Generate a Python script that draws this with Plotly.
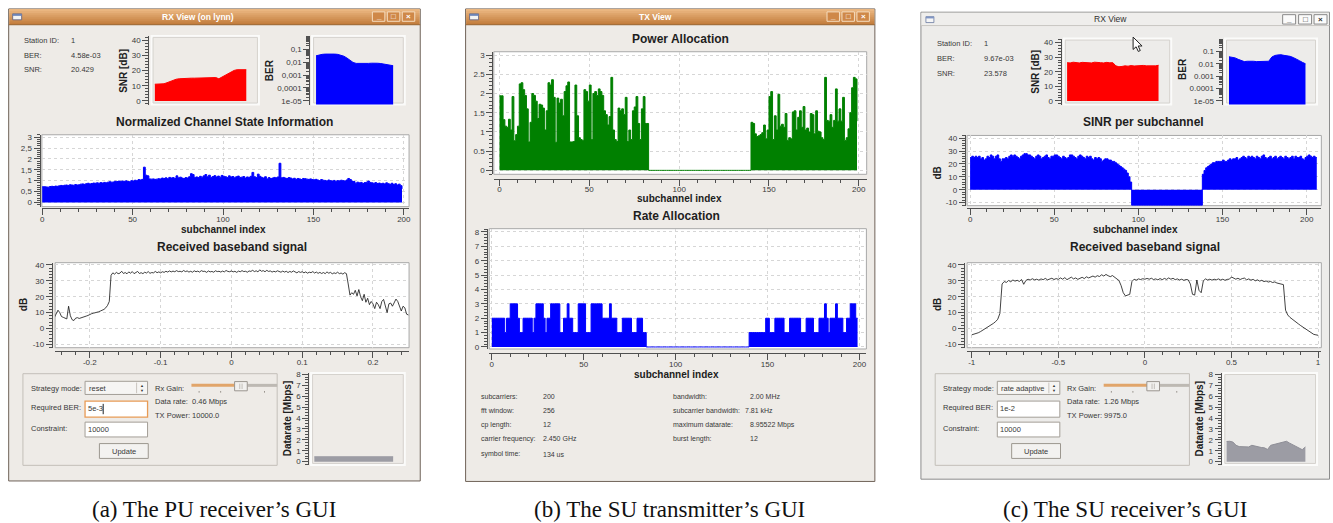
import numpy as np
import plotly.graph_objects as go

W, H = 1333, 523
def fx(p): return p / W
def fy(p): return 1 - p / H

# ------------------------------------------------------------------ data
info_labels = ["Station ID:", "BER:", "SNR:"]
info_values_a = ["1", "4.58e-03", "20.429"]
info_values_c = ["1", "9.67e-03", "23.578"]

snr_hist_a = [11.0, 11.1, 11.2, 11.3, 12.0, 12.8, 13.6, 14.3, 14.6, 14.8,
              14.9, 15.0, 15.0, 15.0, 15.1, 15.2, 15.4, 15.3, 15.4, 15.5,
              15.4, 14.6, 15.8, 17.0, 18.2, 19.2, 20.1, 20.6, 20.5, 20.3, 20.6]
ber_hist_a = [0.031, 0.036, 0.040, 0.042, 0.043, 0.043, 0.042, 0.040, 0.036, 0.029,
              0.021, 0.014, 0.0095, 0.0080, 0.0078, 0.0077, 0.0078, 0.0080, 0.0083, 0.0086,
              0.0082, 0.0078, 0.0070, 0.0062, 0.0057, 0.0053]
datarate_hist_a = [0.45, 0.45, 0.45, 0.45, 0.45, 0.45, 0.45, 0.45, 0.45, 0.45, 0.45, 0.45, 0.45,
                   0.45, 0.45, 0.45, 0.45, 0.45, 0.45, 0.45, 0.45, 0.45, 0.45, 0.45, 0.45, 0.45]

csi_a = [0.72, 0.72, 0.71, 0.70, 0.73, 0.74, 0.73, 0.75, 0.74, 0.76,
         0.78, 0.77, 0.79, 0.80, 0.78, 0.81, 0.80, 0.79, 0.82, 0.80,
         0.81, 0.84, 0.85, 0.83, 0.86, 0.88, 0.85, 0.87, 0.89, 0.88,
         0.90, 0.88, 0.91, 0.89, 0.92, 0.90, 0.93, 0.95, 0.93, 0.94,
         0.97, 0.96, 0.98, 0.97, 0.98, 0.97, 0.99, 0.96, 0.95, 1.00,
         0.98, 1.02, 1.00, 1.05, 1.03, 1.06, 1.62, 1.25, 1.22, 1.08,
         1.07, 1.08, 1.06, 1.07, 1.09, 1.08, 1.12, 1.10, 1.13, 1.09,
         1.15, 1.12, 1.14, 1.10, 1.22, 1.13, 1.16, 1.12, 1.10, 1.14,
         1.12, 1.18, 1.32, 1.28, 1.15, 1.17, 1.14, 1.20, 1.16, 1.22,
         1.28, 1.18, 1.25, 1.15, 1.19, 1.23, 1.17, 1.21, 1.16, 1.24,
         1.20, 1.18, 1.14, 1.22, 1.17, 1.19, 1.13, 1.18, 1.21, 1.15,
         1.16, 1.19, 1.12, 1.17, 1.15, 1.20, 1.38, 1.18, 1.14, 1.30,
         1.20, 1.15, 1.12, 1.18, 1.08, 1.14, 1.10, 1.12, 1.15, 1.13,
         1.17, 1.80, 1.13, 1.15, 1.12, 1.10, 1.14, 1.12, 1.08, 1.11,
         1.06, 1.10, 1.08, 1.05, 1.10, 1.09, 1.07, 1.06, 1.08, 1.05,
         1.04, 1.06, 1.03, 1.00, 1.05, 1.02, 1.01, 0.98, 1.03, 1.00,
         0.98, 1.01, 0.97, 1.00, 0.99, 1.02, 1.00, 0.98, 1.03, 1.10,
         1.05, 0.98, 0.96, 0.88, 0.93, 0.90, 0.92, 0.87, 0.91, 0.93,
         0.98, 0.92, 0.90, 0.88, 0.91, 0.87, 0.89, 0.86, 0.88, 0.85,
         0.90, 0.86, 0.83, 0.88, 0.82, 0.86, 0.80, 0.84, 0.77, 0.62]

bb_a_span = [-0.25, 0.25]
bb_a_db = [7.0, 9.5, 11.5, 10.0, 7.5, 7.0, 6.5, 6.0, 14.0, 8.0,
           5.5, 5.0, 6.5, 6.8, 6.3, 6.8, 7.0, 7.3, 7.8, 8.2,
           9.0, 9.3, 9.6, 9.8, 10.0, 10.5, 11.0, 11.4, 12.0, 13.0,
           14.5, 17.0, 33.5, 35.0, 34.2, 35.3, 34.5, 34.8, 36.0, 34.6,
           35.2, 34.4, 35.6, 34.8, 35.8, 34.5, 35.0, 35.9, 34.6, 35.1,
           34.5, 35.4, 34.9, 35.8, 34.7, 35.2, 35.0, 35.9, 35.1, 35.6,
           35.0, 35.7, 35.3, 36.0, 35.5, 36.2, 35.6, 36.1, 35.7, 36.4,
           35.8, 36.0, 35.6, 36.5, 35.8, 36.2, 35.5, 36.0, 35.4, 36.3,
           35.7, 36.1, 35.5, 36.4, 35.9, 36.0, 35.3, 36.2, 35.6, 35.9,
           35.4, 36.3, 35.8, 36.0, 35.5, 36.1, 35.6, 36.5, 35.9, 35.7,
           36.2, 35.6, 36.0, 35.3, 36.1, 35.7, 36.4, 35.8, 36.0, 35.4,
           36.2, 35.9, 36.6, 35.8, 36.3, 35.6, 36.9, 36.0, 36.4, 35.7,
           36.6, 35.9, 36.2, 35.5, 36.0, 35.6, 36.3, 35.8, 35.4, 36.1,
           35.5, 36.0, 35.2, 35.9, 35.4, 36.2, 35.6, 35.0, 35.8, 35.3,
           35.7, 35.0, 35.6, 34.8, 35.4, 35.1, 35.8, 34.9, 35.5, 34.7,
           35.3, 34.6, 35.2, 34.5, 35.6, 34.8, 35.3, 34.4, 35.0, 34.6,
           35.4, 34.5, 34.9, 34.2, 35.1, 34.5, 28.0, 21.0, 22.5, 21.5,
           24.0, 20.5, 24.5, 20.0, 17.5, 21.5, 16.5, 19.0, 15.0, 17.0,
           15.5, 12.5, 16.5, 15.0, 12.5, 17.0, 18.3, 14.0, 10.0, 15.5,
           16.0, 14.0, 16.5, 18.5, 17.0, 13.5, 11.0, 14.0, 13.0, 9.0, 8.5]

power_b = [1.94, 1.94, 1.32, 1.15, 1.12, 1.33, 1.05, 1.92, 0.77, 0.93,
           1.15, 2.25, 2.28, 2.10, 1.95, 1.60, 0.74, 1.25, 2.00, 1.95,
           1.80, 1.35, 1.72, 1.70, 1.62, 1.05, 1.55, 2.28, 2.22, 2.36,
           1.90, 0.73, 1.88, 1.75, 1.85, 1.42, 2.05, 2.20, 2.30, 0.74,
           0.74, 0.75, 2.22, 1.42, 0.85, 0.80, 0.78, 2.10, 2.05, 1.80,
           2.22, 0.80, 2.00, 2.05, 1.95, 2.12, 2.05, 1.95, 1.55, 1.45,
           1.18, 1.40, 2.42, 1.05, 0.80, 0.75, 1.62, 1.55, 1.60, 1.45,
           1.90, 0.75, 1.05, 0.80, 1.55, 1.65, 1.92, 1.22, 0.80, 1.60,
           1.92, 1.22, 1.22,
           0, 0, 0, 0, 0, 0, 0, 0, 0, 0, 0, 0, 0, 0, 0, 0, 0, 0, 0, 0,
           0, 0, 0, 0, 0, 0, 0, 0, 0, 0, 0, 0, 0, 0, 0, 0, 0, 0, 0, 0,
           0, 0, 0, 0, 0, 0, 0, 0, 0, 0, 0, 0, 0, 0, 0, 0, 0,
           1.25, 1.22, 0.95, 0.88, 0.90, 0.93, 0.98, 1.18, 0.82, 1.05,
           1.92, 2.05, 0.80, 1.42, 1.05, 1.98, 1.15, 1.20, 1.12, 1.48,
           0.78, 0.85, 0.82, 1.52, 1.55, 1.05, 1.38, 1.55, 1.12, 1.66,
           1.05, 1.10, 1.00, 1.48, 1.45, 0.95, 1.55, 1.02, 1.00, 0.85,
           0.80, 2.42, 1.30, 1.28, 1.45, 1.12, 1.30, 2.12, 1.28, 1.60,
           1.28, 1.90, 0.78, 0.85, 1.08, 1.50, 2.15, 2.42, 2.38, 1.28]

rate_b = [2, 2, 2, 2, 2, 2, 2, 1, 2, 2, 3, 3, 3, 3, 2, 1, 1, 2, 2, 2,
          2, 2, 1, 2, 3, 3, 3, 3, 2, 1, 2, 2, 3, 3, 3, 3, 3, 1, 1, 2,
          2, 3, 2, 2, 1, 1, 1, 3, 3, 3, 3, 1, 1, 1, 3, 3, 3, 3, 3, 3,
          2, 2, 2, 2, 3, 2, 2, 2, 1, 1, 1, 2, 2, 2, 2, 2, 1, 1, 1, 2,
          2, 2, 1, 1,
          0, 0, 0, 0, 0, 0, 0, 0, 0, 0, 0, 0, 0, 0, 0, 0, 0, 0, 0, 0,
          0, 0, 0, 0, 0, 0, 0, 0, 0, 0, 0, 0, 0, 0, 0, 0, 0, 0, 0, 0,
          0, 0, 0, 0, 0, 0, 0, 0, 0, 0, 0, 0, 0, 0, 0, 0,
          1, 1, 1, 1, 1, 1, 1, 1, 1, 2, 2, 1, 1, 1, 2, 2, 2, 2, 2, 1,
          1, 1, 2, 2, 2, 2, 2, 2, 1, 1, 1, 2, 2, 2, 2, 1, 1, 1, 2, 2,
          2, 3, 2, 1, 2, 2, 2, 3, 2, 2, 2, 1, 1, 2, 2, 3, 3, 3, 2, 2]

tx_labels_left = ["subcarriers:", "fft window:", "cp length:", "carrier frequency:", "symbol time:"]
tx_values_left = ["200", "256", "12", "2.450 GHz", "134 us"]
tx_labels_right = ["bandwidth:", "subcarrier bandwidth:", "maximum datarate:", "burst length:"]
tx_values_right = ["2.00 MHz", "7.81 kHz", "8.95522 Mbps", "12"]

snr_hist_c = [26.2, 26.0, 26.5, 26.1, 26.0, 26.4, 26.1, 26.3, 26.0, 26.5,
              26.1, 26.2, 26.0, 26.4, 26.1, 26.2, 24.0, 23.4, 23.6, 24.0,
              23.8, 24.2, 23.9, 24.1, 23.8, 24.3, 24.0, 23.9, 24.2, 24.0, 24.4]
ber_hist_c = [0.037, 0.035, 0.030, 0.023, 0.018, 0.015, 0.016, 0.017, 0.016, 0.015,
              0.015, 0.014, 0.014, 0.016, 0.035, 0.047, 0.052, 0.054, 0.048, 0.045,
              0.040, 0.032, 0.025, 0.018, 0.013, 0.010]
datarate_hist_c = [1.85, 1.87, 1.80, 1.50, 1.38, 1.36, 1.33, 1.35, 1.50, 1.42,
                   1.35, 1.30, 1.27, 1.12, 1.50, 1.57, 1.62, 1.70, 1.75, 1.87,
                   1.70, 1.55, 1.42, 1.30, 1.10, 1.35]

sinr_c = [25, 26, 25, 26, 25, 26, 24, 25, 23, 24,
          26, 25, 27, 26, 24, 26, 27, 24, 22, 24,
          24, 25, 24, 26, 27, 26, 27, 26, 25, 24,
          26, 27, 28, 28, 27, 27, 26, 25, 24, 26,
          27, 26, 24, 25, 26, 27, 25, 24, 26, 26,
          27, 27, 26, 25, 24, 26, 25, 24, 25, 27,
          27, 26, 25, 24, 26, 27, 26, 25, 24, 26,
          25, 26, 24, 23, 25, 24, 25, 24, 22, 23,
          24, 24, 23, 23, 22, 22, 21, 20, 19, 18,
          17, 16, 15, 13, 10, 6,
          -12, -12, -12, -12, -12, -12, -12, -12, -12, -12, -12, -12, -12, -12,
          -12, -12, -12, -12, -12, -12, -12, -12, -12, -12, -12, -12, -12, -12,
          -12, -12, -12, -12, -12, -12, -12, -12, -12, -12, -12, -12, -12, -12,
          12, 15,
          17, 18, 19, 20, 21, 21, 22, 22, 22, 22,
          23, 22, 22, 23, 24, 23, 24, 24, 25, 23,
          24, 25, 26, 25, 24, 26, 25, 26, 25, 24,
          26, 25, 24, 26, 27, 25, 24, 25, 26, 24,
          25, 26, 24, 25, 26, 25, 24, 26, 25, 24,
          25, 26, 24, 26, 25, 25, 26, 24, 23, 25,
          26, 27, 26, 25, 26, 25, 25]

bb_c_span = [-1.0, 1.0]
bb_c_db = [-4.0, -3.7, -3.3, -2.7, -2.0, -1.2, -0.4, 0.5, 1.4, 2.3,
           3.2, 4.3, 5.8, 9.5, 28.0, 29.5, 29.0, 30.2, 29.4, 30.5,
           29.8, 30.3, 29.6, 30.8, 27.8, 30.2, 31.0, 30.5, 31.3, 30.6,
           31.0, 30.4, 31.2, 30.7, 31.5, 30.6, 30.9, 31.6, 30.8, 31.4,
           30.9, 31.8, 31.0, 32.0, 30.7, 31.5, 32.3, 31.2, 31.8, 30.9,
           31.6, 32.2, 31.4, 32.5, 31.8, 32.6, 33.0, 32.3, 33.2, 32.7,
           33.8, 33.0, 34.0, 33.2, 32.6, 33.3, 32.4, 31.0, 30.2, 27.0,
           22.5, 20.5, 21.0, 21.5, 29.5, 31.0, 30.4, 31.2, 30.8, 31.3,
           31.0, 31.5, 31.0, 31.6, 30.8, 31.2, 30.6, 31.4, 30.7, 31.5,
           30.9, 31.8, 31.0, 31.6, 30.7, 31.2, 30.5, 31.0, 30.3, 30.8,
           30.6, 28.0, 21.5, 21.0, 30.5, 24.0, 22.5, 30.0, 31.2, 30.5,
           31.0, 30.4, 31.0, 30.6, 31.2, 30.5, 31.0, 30.3, 30.9, 31.0,
           32.4, 31.5, 31.0, 31.6, 30.8, 31.4, 31.7, 30.6, 31.2, 30.4,
           30.9, 30.0, 30.6, 29.8, 30.3, 29.5, 29.9, 29.2, 29.6, 28.9,
           29.3, 28.6, 28.4, 28.2, 27.6, 11.5, 8.5, 7.0, 5.8, 4.7,
           3.7, 2.8, 1.8, 0.9, 0.0, -1.0, -2.0, -3.0, -3.7, -4.0, -4.3]

ctrl_a = dict(mode="reset", ber="5e-3", constraint="10000", rate="0.46 Mbps", power="10000.0")
ctrl_c = dict(mode="rate adaptive", ber="1e-2", constraint="10000", rate="1.26 Mbps", power="9975.0")

subch_ticks = [0, 50, 100, 150, 200]
subch_labels = ["0", "50", "100", "150", "200"]
snr_ticks = [0, 10, 20, 30, 40]
ber_ticks = [1e-5, 1e-4, 1e-3, 1e-2, 1e-1]
ber_labels_a = ["1e-05", "0,0001", "0,001", "0,01", "0,1"]
ber_labels_c = ["1e-05", "0.0001", "0.001", "0.01", "0.1"]
half_ticks = [0, 0.5, 1, 1.5, 2, 2.5, 3]
csi_labels = ["0", "0,5", "1", "1,5", "2", "2,5", "3"]
power_labels = ["0", "0.5", "1", "1.5", "2", "2.5", "3"]
db_ticks = [-10, 0, 10, 20, 30, 40]
bb_a_ticks = [-0.2, -0.1, 0, 0.1, 0.2]
bb_a_labels = ["-0.2", "-0.1", "0", "0.1", "0.2"]
bb_c_ticks = [-1, -0.5, 0, 0.5, 1]
bb_c_labels = ["-1", "-0.5", "0", "0.5", "1"]
eight_ticks = [0, 1, 2, 3, 4, 5, 6, 7, 8]

# ------------------------------------------------------------------ style
SANS = "Liberation Sans"
AXC = "#505050"
GRID = "#d6d6d6"
TICKF = dict(family=SANS, size=8, color="#3a3a3a")
BG_AB = "#eeebe7"
BG_C = "#edecea"

layout = {}
shapes = []
ann = []

def rect(x0, y0, x1, y1, fill=None, line=None, lw=1, layer="below"):
    shapes.append(dict(type="rect", xref="paper", yref="paper",
                       x0=fx(x0), x1=fx(x1), y0=fy(y1), y1=fy(y0),
                       fillcolor=fill if fill else "rgba(0,0,0,0)",
                       line=dict(color=line if line else "rgba(0,0,0,0)", width=lw if line else 0),
                       layer=layer))

def hline(x0, x1, y, color, lw=1, layer="below"):
    shapes.append(dict(type="line", xref="paper", yref="paper", x0=fx(x0), x1=fx(x1),
                       y0=fy(y), y1=fy(y), line=dict(color=color, width=lw), layer=layer))

def vline(x, y0, y1, color, lw=1):
    shapes.append(dict(type="line", xref="paper", yref="paper", x0=fx(x), x1=fx(x),
                       y0=fy(y0), y1=fy(y1), line=dict(color=color, width=lw), layer="below"))

def T(x, y, text, size=7.5, color="#383838", bold=False, anchor="left", family=SANS, angle=0):
    ann.append(dict(x=fx(x), y=fy(y), xref="paper", yref="paper",
                    text=f"<b>{text}</b>" if bold else text, showarrow=False,
                    xanchor=anchor, yanchor="middle", textangle=angle, borderpad=0,
                    font=dict(size=size, color=color, family=family)))

def base_axis():
    return dict(showline=True, linecolor=AXC, linewidth=1, ticks="outside", ticklen=6,
                tickwidth=1, tickcolor=AXC, tickfont=TICKF, zeroline=False, fixedrange=True)

counter = [0]
def new_axes(canvas, xr, yr, yline_x, ytv, ytt, yminor=None, xline_y=None, xtv=None, xtt=None,
             xminor=None, grid=False, ylog=False, yminor_vals=None):
    counter[0] += 1
    i = counter[0]
    s = "" if i == 1 else str(i)
    x0, y0, x1, y1 = canvas
    xa = dict(domain=[fx(x0), fx(x1)], range=xr, fixedrange=True)
    if xline_y is None:
        xa.update(visible=False, anchor="y" + s, showgrid=False, zeroline=False)
    else:
        xa.update(base_axis())
        xa.update(anchor="free", position=fy(xline_y), tickmode="array", tickvals=xtv, ticktext=xtt,
                  showgrid=grid, gridcolor=GRID, griddash="dot", gridwidth=1, ticklabelstandoff=-3)
        if xminor:
            xa["minor"] = dict(dtick=xminor, ticklen=3, tickcolor=AXC, ticks="outside", showgrid=False)
    ya = base_axis()
    ya.update(domain=[fy(y1), fy(y0)], range=yr, anchor="free", position=fx(yline_x),
              tickmode="array", tickvals=ytv, ticktext=ytt,
              showgrid=grid, gridcolor=GRID, griddash="dot", gridwidth=1)
    if ylog:
        ya["type"] = "log"
    if yminor:
        ya["minor"] = dict(dtick=yminor, ticklen=3, tickcolor=AXC, ticks="outside", showgrid=False)
    if yminor_vals:
        ya["minor"] = dict(tickmode="array", tickvals=yminor_vals, ticklen=3, tickcolor=AXC,
                           ticks="outside", showgrid=False)
    layout["xaxis" + s] = xa
    layout["yaxis" + s] = ya
    return "x" + s, "y" + s

def white_canvas(c):
    rect(c[0], c[1], c[2], c[3], fill="white", line="#a8a8a8", lw=1)

def gray_canvas(c, bg):
    rect(c[0] - 1, c[1] - 1, c[2] + 1, c[3] + 1, fill="#fbfbfa", line=None)
    rect(c[0] + 1.5, c[1] + 1.5, c[2] - 1.5, c[3] - 1.5, fill=bg, line="#d5d2cd", lw=1)

def lerp(c1, c2, t):
    return "rgb(%d,%d,%d)" % tuple(int(round(a + (b - a) * t)) for a, b in zip(c1, c2))

# ------------------------------------------------------------------ windows
def window(x0, y0, x1, y1, bar_h, style, bg):
    rect(x0, y0, x1, y1, fill=bg, line="#6f6258" if style == "orange" else "#8c8c8c", lw=1)
    if style == "orange":
        n = 8
        for k in range(n):
            yy0 = y0 + bar_h * k / n
            yy1 = y0 + bar_h * (k + 1) / n
            rect(x0 + 0.5, yy0, x1 - 0.5, yy1 + 0.3,
                 fill=lerp((234, 182, 128), (196, 126, 62), k / (n - 1)))
        hline(x0, x1, y0 + bar_h, "#9b6a3c")
        rect(x0 + 4, y0 + 5, x0 + 13, y0 + 11, fill="#f4f4f4", line="#5a5a7a", lw=0.8)
        rect(x0 + 4, y0 + 5, x0 + 13, y0 + 7, fill="#6c84b8")
        bx = [x1 - 48, x1 - 33, x1 - 18]
        for b, g in zip(bx, ["_", "□", "×"]):
            rect(b, y0 + 3, b + 12.5, y0 + 12.5, fill="#cf8848", line="#f5ddc0", lw=1)
            T(b + 6.3, y0 + 7.8, g, size=8, color="white", bold=True, anchor="center")
    else:
        rect(x0 + 0.5, y0 + 0.5, x1 - 0.5, y0 + bar_h, fill="#efeeec")
        hline(x0, x1, y0 + bar_h, "#c9c7c3")
        rect(x0 + 5, y0 + 4.5, x0 + 13, y0 + 10.5, fill="#f6f6f6", line="#6a7aa0", lw=0.8)
        rect(x0 + 5, y0 + 4.5, x0 + 13, y0 + 6.3, fill="#7f95c4")
        bx = [x1 - 47, x1 - 31, x1 - 15.5]
        for b, g in zip(bx, ["_", "□", "×"]):
            rect(b, y0 + 2.5, b + 13, y0 + 12, fill="#fbfbfb", line="#8a8a8a", lw=1)
            T(b + 6.5, y0 + 7.3, g, size=8, color="#303030", bold=True, anchor="center")

window(6.7, 6, 419.5, 483.5, 16, "orange", BG_AB)
window(465, 6, 875.5, 484, 16, "orange", BG_AB)
window(921.7, 9.3, 1331.5, 481.7, 13.5, "gray", BG_C)
T(197, 14.3, "RX View (on lynn)", size=8.5, color="white", bold=True, anchor="center")
T(655, 14.3, "TX View", size=8.5, color="white", bold=True, anchor="center")
T(1112, 16.2, "RX View", size=8.5, color="#303030", anchor="center")

# ------------------------------------------------------------------ RX panels (a and c)
def rx_top(dx, vals, ytop):
    for lab, v, yy in zip(info_labels, vals, [ytop, ytop + 15, ytop + 30]):
        T(dx + 21.5, yy, lab)
        T(dx + 68.5, yy, v)

def controls(dx, c, focused):
    rect(dx + 21, 375, dx + 276, 467.7, fill=None, line="#c3bfb9", lw=1)
    T(dx + 28, 389.5, "Strategy mode:")
    rect(dx + 83.3, 382.7, dx + 146, 396, fill="#f6f5f3", line="#a39e97", lw=1)
    vline(dx + 135, 384, 394.7, "#c8c4be")
    T(dx + 86, 389.5, c["mode"])
    T(dx + 140.5, 387.3, "▲", size=4, color="#333", anchor="center")
    T(dx + 140.5, 391.7, "▼", size=4, color="#333", anchor="center")
    T(dx + 152, 389.5, "Rx Gain:")
    hline(dx + 190, dx + 233.5, 386.8, "#e1a56a", lw=3)
    hline(dx + 246, dx + 276, 386.8, "#bdb9b3", lw=3)
    for tx in [197.7, 219.3, 263.3]:
        vline(dx + tx, 392.5, 394.2, "#9a958f")
    rect(dx + 233.3, 383, dx + 246, 392.3, fill="#f2f1ef", line="#9a958f", lw=1)
    vline(dx + 238.5, 385, 390.5, "#c2beb8")
    vline(dx + 240.8, 385, 390.5, "#c2beb8")
    T(dx + 28, 409.5, "Required BER:")
    rect(dx + 83.3, 402.7, dx + 146, 419, fill="white",
         line="#e89b55" if focused else "#a39e97", lw=1.3 if focused else 1)
    T(dx + 85.5, 410.5, c["ber"])
    if focused:
        vline(dx + 101.5, 405.5, 416, "#222")
    T(dx + 152, 403.5, "Data rate:  " + c["rate"])
    T(dx + 152, 417.5, "TX Power: " + c["power"])
    T(dx + 28, 430.7, "Constraint:")
    rect(dx + 83.3, 424, dx + 146, 439, fill="white", line="#a39e97", lw=1)
    T(dx + 85.5, 431.5, c["constraint"])
    rect(dx + 97.7, 445.7, dx + 146.7, 460.7, fill="#f3f2f0", line="#9c978f", lw=1)
    T(dx + 122.2, 453.2, "Update", anchor="center")

fig = go.Figure()

# ---- window a
rx_top(0, info_values_a, 37.7)
c1 = (150, 33.3, 257.7, 102.7)
gray_canvas(c1, BG_AB)
xa, ya = new_axes(c1, [-1.08, 34.15], [-2.4, 42.9], 146.7, snr_ticks, [str(v) for v in snr_ticks], yminor=2)
fig.add_trace(go.Scatter(x=list(range(len(snr_hist_a))), y=snr_hist_a, mode="lines", fill="tozeroy",
                         fillcolor="#ff0000", line=dict(color="#ff0000", width=1), xaxis=xa, yaxis=ya))
T(121.7, 68.3, "SNR [dB]", size=10, color="#202020", bold=True, anchor="center", angle=-90)

c2 = (311, 33.3, 404, 102.7)
gray_canvas(c2, BG_AB)
ber_minor = [k * 10.0 ** e for e in range(-5, 0) for k in range(2, 10)]
xa, ya = new_axes(c2, [-1.29, 28.78], [-5.28, 0.03], 308.3, ber_ticks, ber_labels_a, ylog=True,
                  yminor_vals=ber_minor)
fig.add_trace(go.Scatter(x=list(range(len(ber_hist_a))), y=ber_hist_a, mode="lines", fill="tozeroy",
                         fillcolor="#0000ff", line=dict(color="#0000ff", width=1), xaxis=xa, yaxis=ya))
T(268.3, 67.5, "BER", size=10, color="#202020", bold=True, anchor="center", angle=-90)

T(223.3, 120, "Normalized Channel State Information", size=12, color="#1e1e1e", bold=True, anchor="center")
c3 = (40, 133.3, 408.3, 206)
white_canvas(c3)
xa, ya = new_axes(c3, [-0.17, 202.9], [-0.195, 3.11], 37.7, half_ticks, csi_labels, yminor=0.1,
                  xline_y=207.3, xtv=subch_ticks, xtt=subch_labels, xminor=10, grid=True)
fig.add_trace(go.Scatter(x=list(range(len(csi_a))), y=csi_a, mode="lines", line_shape="hv",
                         fill="tozeroy", fillcolor="#0000ff", line=dict(color="#0000ff", width=1),
                         xaxis=xa, yaxis=ya))
T(221.7, 229.3, "subchannel index", size=10, color="#202020", bold=True, anchor="center")

T(231, 247.3, "Received baseband signal", size=12, color="#1e1e1e", bold=True, anchor="center")
c4 = (53.3, 262.7, 408.3, 348.7)
white_canvas(c4)
xa, ya = new_axes(c4, [-0.249, 0.251], [-12.1, 41.4], 50, db_ticks, [str(v) for v in db_ticks], yminor=2,
                  xline_y=352.5, xtv=bb_a_ticks, xtt=bb_a_labels, xminor=0.02, grid=True)
fig.add_trace(go.Scatter(x=np.linspace(bb_a_span[0], bb_a_span[1], len(bb_a_db)), y=bb_a_db, mode="lines",
                         line=dict(color="#111111", width=0.8), xaxis=xa, yaxis=ya))
T(21.7, 305, "dB", size=10, color="#202020", bold=True, anchor="center", angle=-90)

controls(0, ctrl_a, True)
c5 = (310, 374.3, 404, 467.3)
gray_canvas(c5, BG_AB)
xa, ya = new_axes(c5, [-1.04, 28.7], [-0.3, 8.13], 307.3, eight_ticks, [str(v) for v in eight_ticks],
                  yminor=0.25)
fig.add_trace(go.Scatter(x=list(range(len(datarate_hist_a))), y=datarate_hist_a, mode="lines",
                         fill="tozeroy", fillcolor="#9c9ca4", line=dict(color="#9c9ca4", width=1),
                         xaxis=xa, yaxis=ya))
T(286, 420, "Datarate [Mbps]", size=10, color="#202020", bold=True, anchor="center", angle=-90)

# ---- window b
T(680.7, 36, "Power Allocation", size=12, color="#1e1e1e", bold=True, anchor="center")
c6 = (493.3, 49.3, 867.3, 173.3)
white_canvas(c6)
xa, ya = new_axes(c6, [-3.16, 204.4], [-0.103, 3.087], 491.7, half_ticks, power_labels, yminor=0.1,
                  xline_y=177.7, xtv=subch_ticks, xtt=subch_labels, xminor=10, grid=True)
fig.add_trace(go.Scatter(x=list(range(len(power_b))), y=power_b, mode="lines", line_shape="hv",
                         fill="tozeroy", fillcolor="#008000", line=dict(color="#008000", width=1),
                         xaxis=xa, yaxis=ya))
T(680, 197.5, "subchannel index", size=10, color="#202020", bold=True, anchor="center")

T(676.7, 215.5, "Rate Allocation", size=12, color="#1e1e1e", bold=True, anchor="center")
c7 = (488.7, 228.3, 867, 350)
white_canvas(c7)
xa, ya = new_axes(c7, [-1.41, 203.8], [-0.14, 8.23], 486.3, eight_ticks, [str(v) for v in eight_ticks],
                  yminor=0.2, xline_y=354.3, xtv=subch_ticks, xtt=subch_labels, xminor=10, grid=True)
fig.add_trace(go.Scatter(x=list(range(len(rate_b))), y=rate_b, mode="lines", line_shape="hv",
                         fill="tozeroy", fillcolor="#0000ff", line=dict(color="#0000ff", width=1),
                         xaxis=xa, yaxis=ya))
T(676.7, 376, "subchannel index", size=10, color="#202020", bold=True, anchor="center")

rows_y = [397.7, 412.3, 426.7, 441, 456.7]
for lab, v, yy in zip(tx_labels_left, tx_values_left, rows_y):
    T(479.3, yy, lab, size=7)
    T(541.7, yy, v, size=7)
for lab, v, yy in zip(tx_labels_right, tx_values_right, rows_y):
    T(672.3, yy, lab, size=7)
    T(744 if lab.startswith("subcarrier") else 749, yy, v, size=7)

# ---- window c
D = 915
rx_top(D, info_values_c, 41)
c8 = (1065, 36, 1172.7, 102.7)
gray_canvas(c8, BG_C)
xa, ya = new_axes(c8, [-1.08, 34.15], [-2.5, 42.7], 1061.7, snr_ticks, [str(v) for v in snr_ticks], yminor=2)
fig.add_trace(go.Scatter(x=list(range(len(snr_hist_c))), y=snr_hist_c, mode="lines", fill="tozeroy",
                         fillcolor="#ff0000", line=dict(color="#ff0000", width=1), xaxis=xa, yaxis=ya))
T(1036.7, 70, "SNR [dB]", size=10, color="#202020", bold=True, anchor="center", angle=-90)

c9 = (1226.7, 36, 1319, 102.7)
gray_canvas(c9, BG_C)
xa, ya = new_axes(c9, [-1.29, 28.78], [-5.3, 0.04], 1223.3, ber_ticks, ber_labels_c, ylog=True,
                  yminor_vals=ber_minor)
fig.add_trace(go.Scatter(x=list(range(len(ber_hist_c))), y=ber_hist_c, mode="lines", fill="tozeroy",
                         fillcolor="#0000ff", line=dict(color="#0000ff", width=1), xaxis=xa, yaxis=ya))
T(1183.3, 67, "BER", size=10, color="#202020", bold=True, anchor="center", angle=-90)

T(1145, 120, "SINR per subchannel", size=12, color="#1e1e1e", bold=True, anchor="center")
c10 = (968, 134, 1323.3, 205)
white_canvas(c10)
xa, ya = new_axes(c10, [-1.78, 208.7], [-12.3, 42.1], 965.7, db_ticks, [str(v) for v in db_ticks], yminor=2,
                  xline_y=207.3, xtv=subch_ticks, xtt=subch_labels, xminor=10, grid=True)
fig.add_trace(go.Scatter(x=list(range(len(sinr_c))), y=sinr_c, mode="lines", line_shape="hv",
                         fill="tozeroy", fillcolor="#0000ff", line=dict(color="#0000ff", width=1),
                         xaxis=xa, yaxis=ya))
T(938.3, 172, "dB", size=10, color="#202020", bold=True, anchor="center", angle=-90)
T(1136.7, 229.3, "subchannel index", size=10, color="#202020", bold=True, anchor="center")

T(1146, 247.3, "Received baseband signal", size=12, color="#1e1e1e", bold=True, anchor="center")
c11 = (968, 262.7, 1323.3, 348.7)
white_canvas(c11)
xa, ya = new_axes(c11, [-1.027, 1.019], [-12.1, 41.4], 965, db_ticks, [str(v) for v in db_ticks], yminor=2,
                  xline_y=352.5, xtv=bb_c_ticks, xtt=bb_c_labels, xminor=0.1, grid=True)
fig.add_trace(go.Scatter(x=np.linspace(bb_c_span[0], bb_c_span[1], len(bb_c_db)), y=bb_c_db, mode="lines",
                         line=dict(color="#111111", width=0.8), xaxis=xa, yaxis=ya))
T(938.3, 305, "dB", size=10, color="#202020", bold=True, anchor="center", angle=-90)

controls(D, ctrl_c, False)
c12 = (1225, 374.3, 1319, 467.3)
gray_canvas(c12, BG_C)
xa, ya = new_axes(c12, [-1.04, 28.7], [-0.3, 8.13], 1222.3, eight_ticks, [str(v) for v in eight_ticks],
                  yminor=0.25)
fig.add_trace(go.Scatter(x=list(range(len(datarate_hist_c))), y=datarate_hist_c, mode="lines",
                         fill="tozeroy", fillcolor="#9c9ca4", line=dict(color="#8e8e96", width=1),
                         xaxis=xa, yaxis=ya))
T(1201, 420, "Datarate [Mbps]", size=10, color="#202020", bold=True, anchor="center", angle=-90)

# mouse cursor
cx, cy = 1134.5, 34.5
pts = [(0, 0), (0, 12.5), (3, 9.8), (5.2, 14.5), (7.2, 13.6), (5.1, 9.0), (9, 9.0)]
path = "M " + " L ".join(f"{fx(cx + a):.5f},{fy(cy + b):.5f}" for a, b in pts) + " Z"
shapes.append(dict(type="path", xref="paper", yref="paper", path=path, fillcolor="white",
                   line=dict(color="#222", width=1), layer="above"))

# captions
SERIF = "Liberation Serif"
T(213, 512.5, "(a) The PU receiver’s GUI", size=23, color="#111", anchor="center", family=SERIF)
T(670, 512.5, "(b) The SU transmitter’s GUI", size=23, color="#111", anchor="center", family=SERIF)
T(1126, 512.5, "(c) The SU receiver’s GUI", size=23, color="#111", anchor="center", family=SERIF)

fig.update_layout(width=W, height=H, margin=dict(l=0, r=0, t=0, b=0, pad=0),
                  paper_bgcolor="white", plot_bgcolor="rgba(0,0,0,0)", showlegend=False,
                  font=dict(family=SANS), shapes=shapes, annotations=ann, **layout)
fig.write_html("out.html", config={"displayModeBar": False},
               post_script="document.body.style.margin='0px';document.body.style.padding='0px';")
